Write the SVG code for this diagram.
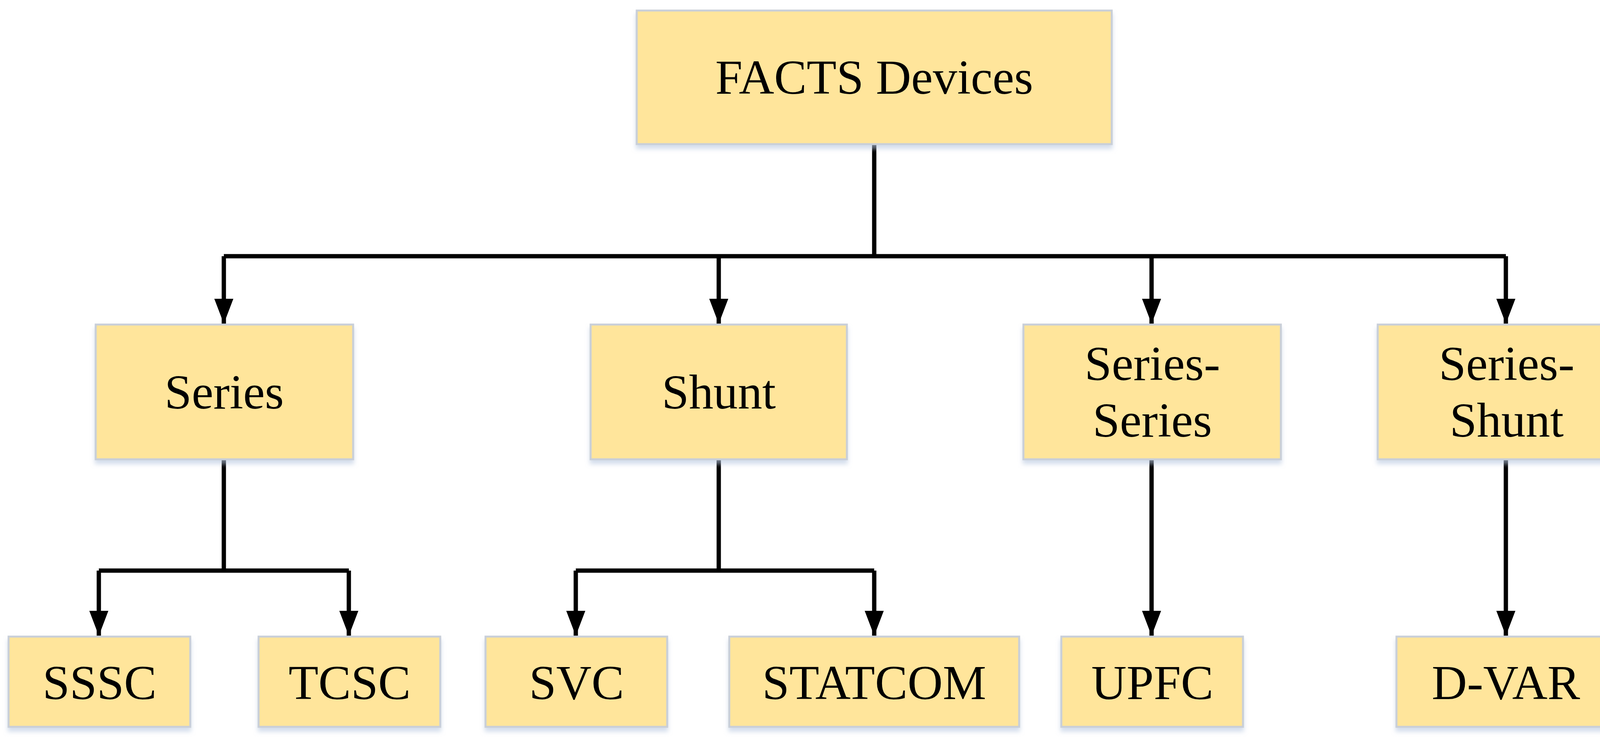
<svg xmlns="http://www.w3.org/2000/svg" width="4217" height="1905" viewBox="0 0 4217 1905">
<style>
.b{fill:#FFE59B;stroke:#C9CFD8;stroke-width:5}
.t{font-family:"Liberation Serif",serif;font-size:125px;fill:#000;text-anchor:middle}
.c{fill:none;stroke:#000;stroke-width:11}
</style>
<defs>
<marker id="a" markerUnits="userSpaceOnUse" markerWidth="64" markerHeight="84" refX="32" refY="84" orient="auto-start-reverse" viewBox="0 0 64 84"><path d="M0,0L64,0L32,84Z" fill="#000" transform="rotate(0)"/></marker>
<marker id="d" markerUnits="userSpaceOnUse" markerWidth="64" markerHeight="84" refX="84" refY="32" orient="auto" viewBox="0 0 84 64"><path d="M0,0L84,32L0,64Z" fill="#000"/></marker>
<filter id="s" x="-5%" y="-5%" width="115%" height="125%"><feDropShadow dx="0" dy="10" stdDeviation="6" flood-color="#B8C8E0" flood-opacity="0.6"/></filter>
</defs>
<g id="connectors">
<path class="c" d="M2238,369V656M573,656H3855"/>
<path class="c" marker-end="url(#d)" d="M573,656V829"/>
<path class="c" marker-end="url(#d)" d="M1840,656V829"/>
<path class="c" marker-end="url(#d)" d="M2948,656V829"/>
<path class="c" marker-end="url(#d)" d="M3855,656V829"/>
<path class="c" d="M573,1176V1461M253,1461H893M1840,1176V1461M1474,1461H2238"/>
<path class="c" marker-end="url(#d)" d="M253,1461V1628"/>
<path class="c" marker-end="url(#d)" d="M893,1461V1628"/>
<path class="c" marker-end="url(#d)" d="M1474,1461V1628"/>
<path class="c" marker-end="url(#d)" d="M2238,1461V1628"/>
<path class="c" marker-end="url(#d)" d="M2948,1176V1628"/>
<path class="c" marker-end="url(#d)" d="M3855,1176V1628"/>
</g>
<g id="root"><rect class="b" filter="url(#s)" x="1630" y="27" width="1216" height="342"/><text class="t" x="2238" y="240" font-size="130">FACTS Devices</text></g>
<g id="series"><rect class="b" filter="url(#s)" x="245" y="831" width="659" height="345"/><text class="t" x="574" y="1046">Series</text></g>
<g id="shunt"><rect class="b" filter="url(#s)" x="1512" y="831" width="656" height="345"/><text class="t" x="1840" y="1046">Shunt</text></g>
<g id="series-series"><rect class="b" filter="url(#s)" x="2620" y="831" width="659" height="345"/><text class="t" x="2950" y="973">Series-</text><text class="t" x="2950" y="1118">Series</text></g>
<g id="series-shunt"><rect class="b" filter="url(#s)" x="3527" y="831" width="659" height="345"/><text class="t" x="3857" y="973">Series-</text><text class="t" x="3857" y="1118">Shunt</text></g>
<g id="sssc"><rect class="b" filter="url(#s)" x="22" y="1630" width="465" height="231"/><text class="t" x="255" y="1790">SSSC</text></g>
<g id="tcsc"><rect class="b" filter="url(#s)" x="662" y="1630" width="465" height="231"/><text class="t" x="895" y="1790">TCSC</text></g>
<g id="svc"><rect class="b" filter="url(#s)" x="1243" y="1630" width="465" height="231"/><text class="t" x="1476" y="1790">SVC</text></g>
<g id="statcom"><rect class="b" filter="url(#s)" x="1867" y="1630" width="742" height="231"/><text class="t" x="2238" y="1790">STATCOM</text></g>
<g id="upfc"><rect class="b" filter="url(#s)" x="2717" y="1630" width="465" height="231"/><text class="t" x="2950" y="1790">UPFC</text></g>
<g id="dvar"><rect class="b" filter="url(#s)" x="3575" y="1630" width="560" height="231"/><text class="t" x="3855" y="1790">D-VAR</text></g>
</svg>
